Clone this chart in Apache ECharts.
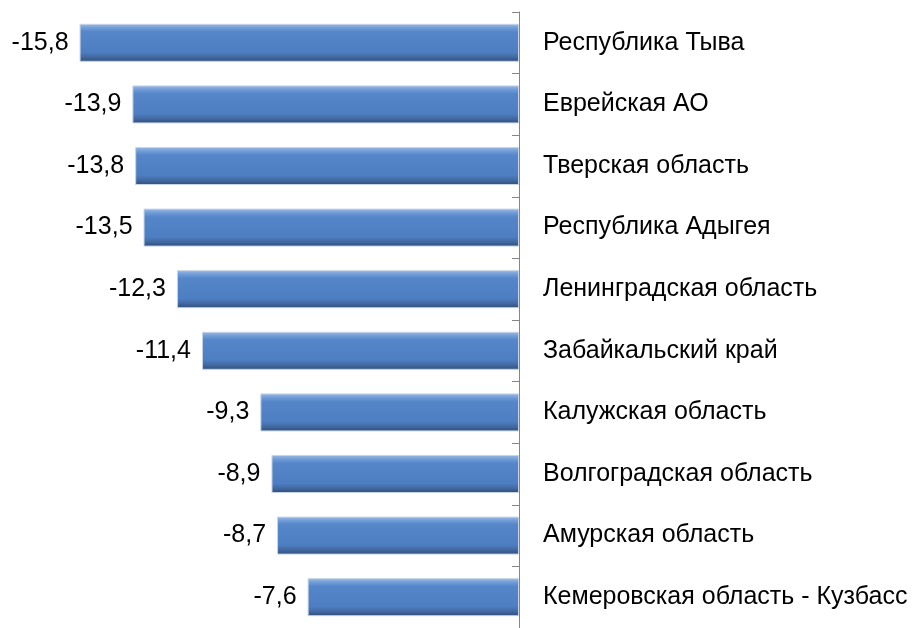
<!DOCTYPE html>
<html>
<head>
<meta charset="utf-8">
<script src="https://cdn.jsdelivr.net/npm/echarts@6/dist/echarts.min.js"></script>
<style>
  html, body { margin: 0; padding: 0; background: #fff; overflow: hidden; }
  #chart { width: 918px; height: 628px; }
</style>
</head>
<body>
<div id="chart"></div>
<script>
(function () {
  const regions = [
    'Республика Тыва',
    'Еврейская АО',
    'Тверская область',
    'Республика Адыгея',
    'Ленинградская область',
    'Забайкальский край',
    'Калужская область',
    'Волгоградская область',
    'Амурская область',
    'Кемеровская область - Кузбасс'
  ];
  const values = [-15.8, -13.9, -13.8, -13.5, -12.3, -11.4, -9.3, -8.9, -8.7, -7.6];

  const chart = echarts.init(document.getElementById('chart'));
  const font = '"Liberation Sans", Arial, sans-serif';

  chart.setOption({
    animation: false,
    grid: { left: 74, right: 399, top: 12, height: 627 },
    xAxis: {
      type: 'value',
      min: -16,
      max: 0,
      show: false
    },
    yAxis: {
      type: 'category',
      data: regions,
      inverse: true,
      position: 'right',
      axisLine: { show: true, lineStyle: { color: '#868686', width: 1 } },
      axisTick: { show: true, inside: true, length: 7, lineStyle: { color: '#868686' } },
      axisLabel: {
        margin: 24,
        color: '#000',
        fontFamily: font,
        fontSize: 25
      },
      splitLine: { show: false }
    },
    series: [{
      type: 'bar',
      data: values,
      barWidth: 38,
      itemStyle: {
        color: {
          type: 'linear', x: 0, y: 0, x2: 0, y2: 1,
          colorStops: [
            { offset: 0, color: '#9cbbe6' },
            { offset: 0.12, color: '#6d99d6' },
            { offset: 0.22, color: '#5586c9' },
            { offset: 0.75, color: '#4d7ec2' },
            { offset: 0.88, color: '#42689f' },
            { offset: 1, color: '#2e4c7a' }
          ]
        },
        borderColor: '#c6d4e6',
        borderWidth: 1
      },
      label: {
        show: true,
        position: 'left',
        distance: 11,
        color: '#000',
        fontFamily: font,
        fontSize: 25,
        formatter: p => String(p.value).replace('.', ',')
      }
    }]
  });

  window.addEventListener('resize', () => chart.resize());
})();
</script>
</body>
</html>
